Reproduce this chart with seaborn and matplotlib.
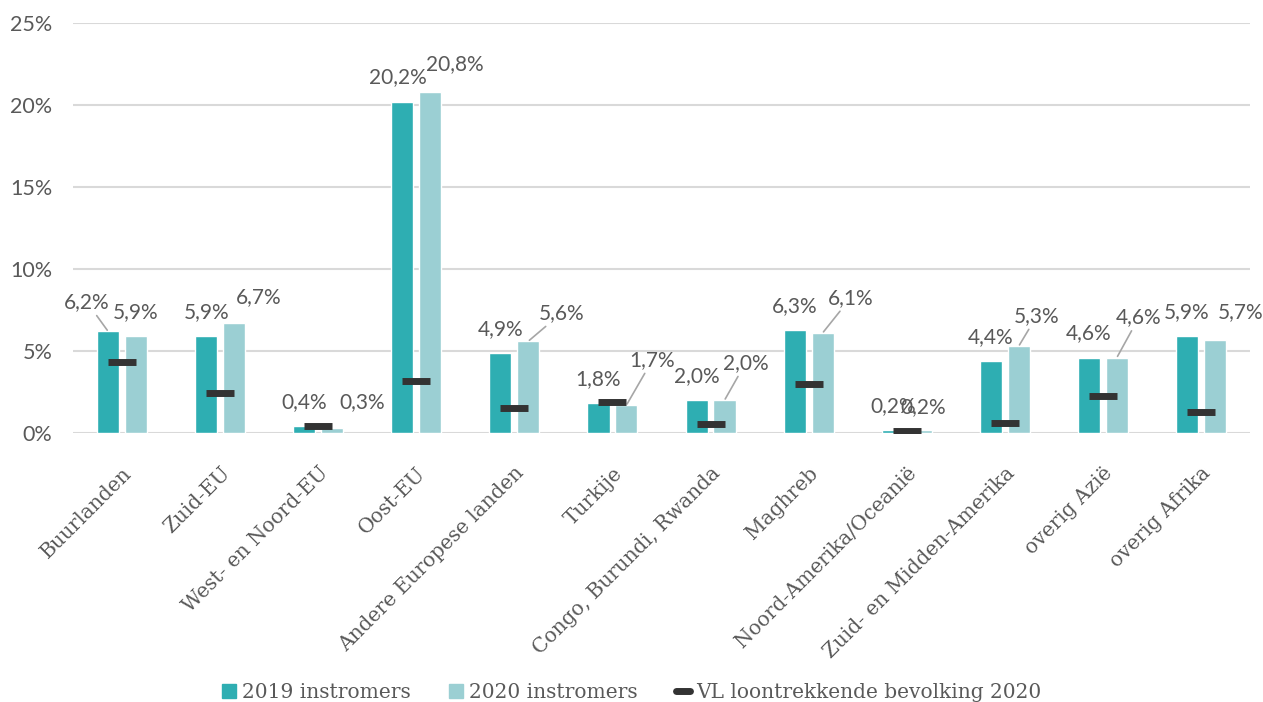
import pandas as pd
import numpy as np
import matplotlib.pyplot as plt
import seaborn as sns
from matplotlib.patches import Patch
from matplotlib.lines import Line2D

# data (percent)
regions = ['Buurlanden', 'Zuid-EU', 'West- en Noord-EU', 'Oost-EU',
           'Andere Europese landen', 'Turkije', 'Congo, Burundi, Rwanda',
           'Maghreb', 'Noord-Amerika/Oceanië', 'Zuid- en Midden-Amerika',
           'overig Azië', 'overig Afrika']
instr_2019 = [6.2, 5.9, 0.4, 20.2, 4.9, 1.8, 2.0, 6.3, 0.2, 4.4, 4.6, 5.9]
instr_2020 = [5.9, 6.7, 0.3, 20.8, 5.6, 1.7, 2.0, 6.1, 0.2, 5.3, 4.6, 5.7]
vl_bevolking = [4.3, 2.45, 0.45, 3.2, 1.55, 1.9, 0.55, 3.0, 0.1, 0.6, 2.25, 1.25]
series_names = ['2019 instromers', '2020 instromers']
marker_name = 'VL loontrekkende bevolking 2020'

C19 = '#2eaeb2'
C20 = '#9bcfd3'
CMARK = '#333333'
CTXT = '#595959'
SANS = ['Lato', 'DejaVu Sans']
SERIF = ['DejaVu Serif']

# label offsets in pixels (dx, dy) from top of the bar, and whether a leader line is drawn
default_off = (0, 24)
label_off = {
    (0, 0): ((-21, 29), True),
    (1, 1): ((25, 26), False),
    (2, 1): ((30, 26), False),
    (3, 0): ((-4, 25), False),
    (3, 1): ((25, 28), False),
    (4, 1): ((33, 28), True),
    (5, 1): ((26, 45), True),
    (6, 1): ((21, 37), True),
    (7, 1): ((28, 35), True),
    (8, 1): ((3, 23), False),
    (9, 1): ((18, 30), True),
    (10, 1): ((22, 40), True),
    (11, 1): ((26, 27), False),
}

df = pd.DataFrame({
    'regio': regions * 2,
    'aandeel': instr_2019 + instr_2020,
    'jaar': [series_names[0]] * len(regions) + [series_names[1]] * len(regions),
})

sns.set_style('white')
fig = plt.figure(figsize=(12.63, 7.02), dpi=100)
ax = fig.add_axes([73 / 1263, 1 - 433 / 702, 1177 / 1263, 410 / 702])

sns.barplot(data=df, x='regio', y='aandeel', hue='jaar', order=regions,
            palette=[C19, C20], width=0.57, gap=0.21, ax=ax,
            legend=False, saturation=1, errorbar=None)

sns.pointplot(x=regions, y=vl_bevolking, order=regions, linestyle='none',
              marker='_', markersize=20, markeredgewidth=5, color=CMARK,
              errorbar=None, ax=ax, zorder=5)

ax.set_xlim(-0.5, len(regions) - 0.5)
ax.set_ylim(0, 25)
ax.set_yticks(range(0, 26, 5))
ax.set_yticklabels([f'{v}%' for v in range(0, 26, 5)], family=SANS,
                   fontsize=15.5, color=CTXT)
ax.grid(axis='y', color='#d9d9d9', lw=1.5)
ax.set_axisbelow(True)
for s in ax.spines.values():
    s.set_visible(False)
ax.tick_params(axis='y', length=0, pad=15)
ax.tick_params(axis='x', length=0, pad=22)
ax.set_xlabel('')
ax.set_ylabel('')
ax.set_xticks(range(len(regions)))
ax.set_xticklabels(regions, rotation=45, ha='right', rotation_mode='anchor',
                   family=SERIF, fontsize=14.5, color=CTXT)

# data labels
for j, vals in enumerate([instr_2019, instr_2020]):
    off_x = -0.1425 if j == 0 else 0.1425
    for i, v in enumerate(vals):
        (dx, dy), leader = label_off.get((i, j), (default_off, False))
        txt = f'{v:.1f}%'.replace('.', ',')
        kw = {}
        if leader:
            kw['arrowprops'] = dict(arrowstyle='-', color='#a6a6a6', lw=1.2,
                                    shrinkA=0, shrinkB=1)
        ax.annotate(txt, xy=(i + off_x, v), xytext=(dx, dy),
                    textcoords='offset pixels', ha='center', va='center',
                    family=SANS, fontsize=15, color=CTXT, **kw)

handles = [Patch(color=C19), Patch(color=C20),
           Line2D([], [], color=CMARK, lw=5, solid_capstyle='round')]
fig.legend(handles, series_names + [marker_name], loc='lower center',
           bbox_to_anchor=(0.5, -0.026), ncol=3, frameon=False,
           handlelength=0.7, handleheight=0.7, handletextpad=0.3,
           columnspacing=1.9, prop={'family': SERIF, 'size': 14.5},
           labelcolor=CTXT)

fig.savefig('out.png', dpi=100)
